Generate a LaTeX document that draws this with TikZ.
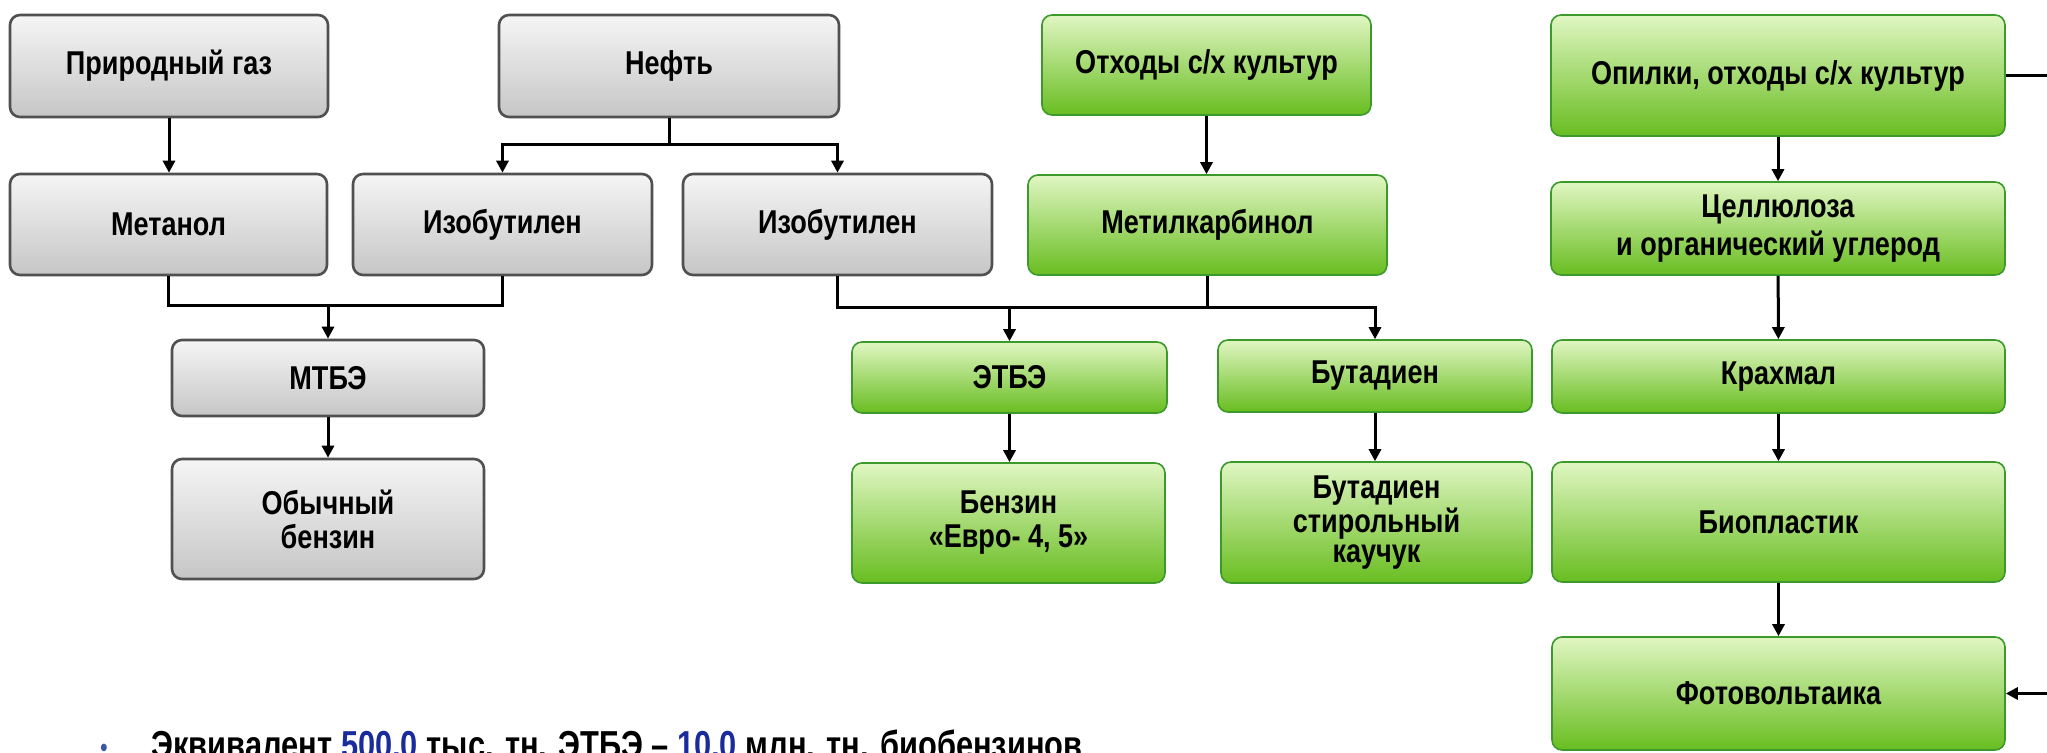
\documentclass[tikz,border=0pt]{standalone}
\usepackage{fontspec}
\setmainfont{Liberation Sans}[FakeStretch=0.82]
\newfontfamily\notefont{Liberation Sans}[FakeStretch=0.79]
\usetikzlibrary{arrows.meta}
\definecolor{grayline}{HTML}{505050}
\definecolor{graytop}{HTML}{F5F5F5}
\definecolor{graybot}{HTML}{C6C6C6}
\definecolor{greenline}{HTML}{3C9A2C}
\definecolor{greentop}{HTML}{E0F6C2}
\definecolor{greenbot}{HTML}{68BD20}
\definecolor{numblue}{HTML}{1A2C9C}
\definecolor{bulletblue}{HTML}{3A56A8}

\begin{document}
\begin{tikzpicture}[x=0.5pt,y=-0.5pt,
    box/.style={rounded corners=5pt,inner sep=0pt,align=center,
      font=\fontsize{16.5}{17}\selectfont\bfseries},
    graybox/.style={box,draw=grayline,line width=1.3pt,top color=graytop,bottom color=graybot},
    greenbox/.style={box,draw=greenline,line width=0.8pt,top color=greentop,bottom color=greenbot},
    link/.style={line width=1.5pt},
    arr/.style={link,-{Triangle[length=6pt,width=6pt]}}]
  \clip (0,0) rectangle (2047,753);
  \fill[white] (0,0) rectangle (2047,753);
  % row 1
  \draw
    (169,66) node[graybox,minimum width=159pt,minimum height=51pt] (gas){Природный газ}
    (669,66) node[graybox,minimum width=170pt,minimum height=51pt] (oil){Нефть}
    (1206.5,65) node[greenbox,minimum width=164.5pt,minimum height=50pt] (waste){Отходы с/х культур}
    (1778,75.5) node[greenbox,minimum width=227pt,minimum height=60.5pt] (saw){Опилки, отходы с/х культур};
  % row 2
  \draw
    (168.5,224.5) node[graybox,minimum width=158.5pt,minimum height=50.5pt] (meth){Метанол}
    (502.5,224.5) node[graybox,minimum width=149.5pt,minimum height=50.5pt] (iso1){Изобутилен}
    (837.5,224.5) node[graybox,minimum width=154.5pt,minimum height=50.5pt] (iso2){Изобутилен}
    (1207.5,225) node[greenbox,minimum width=179.5pt,minimum height=50pt] (mk){Метилкарбинол}
    (1778,228.5) node[greenbox,minimum width=227pt,minimum height=46.5pt] (cell){Целлюлоза\\[2pt]и органический углерод};
  % row 3
  \draw
    (328,378) node[graybox,minimum width=156pt,minimum height=38pt] (mtbe){МТБЭ}
    (1009.5,377.5) node[greenbox,minimum width=157.5pt,minimum height=35.5pt] (etbe){ЭТБЭ}
    (1375,376) node[greenbox,minimum width=157pt,minimum height=36pt] (but){Бутадиен}
    (1778.5,376.5) node[greenbox,minimum width=226.5pt,minimum height=36.5pt] (starch){Крахмал};
  % row 4
  \draw
    (328,519) node[graybox,minimum width=156pt,minimum height=60pt] (plain){Обычный\\бензин}
    (1008.5,523) node[greenbox,minimum width=156.5pt,minimum height=60pt] (euro){Бензин\\«Евро- 4, 5»}
    (1376.5,522.5) node[greenbox,minimum width=155.5pt,minimum height=60.5pt,
      font=\fontsize{16.5}{15}\selectfont\bfseries] (sbr){Бутадиен\\стирольный\\каучук}
    (1778.5,522) node[greenbox,minimum width=226.5pt,minimum height=60pt] (bio){Биопластик}
    (1778.5,693.5) node[greenbox,minimum width=226.5pt,minimum height=56.5pt] (pv){Фотовольтаика};
  % junctions
  \coordinate (mtbejoin) at (328,306);
  \coordinate (oiljoin) at (669,145);
  \coordinate (etbejoin) at (1207.5,308);
  \begin{scope}[arr]
    \draw (gas.south) -- (gas.south |- meth.north);
    \draw (mtbe) -- (plain);
    \draw (waste.south) -- (waste.south |- mk.north);
    \draw (etbe.south) -- (etbe.south |- euro.north);
    \draw (but.south) -- (but.south |- sbr.north);
    \draw (saw) -- (cell);
    \draw (cell) -- (starch);
    \draw (starch) -- (bio);
    \draw (bio) -- (pv);
    \draw (oiljoin) -| (iso1.north);
    \draw (oiljoin) -| (iso2.north);
    \draw (mtbejoin) -- (mtbe.north);
    \draw (etbejoin) -| (but.north);
    \draw (etbe.north |- etbejoin) -- (etbe.north);
    \draw (saw.east) -- ++(80,0) |- (pv.east);
  \end{scope}
  \draw[link] (oil.south) -- (oiljoin);
  \draw[link] (meth.south) |- (iso1.south |- mtbejoin) -- (iso1.south);
  \draw[link] (iso2.south) |- (etbejoin) -- (mk.south);
  % note
  \node[anchor=base west,inner sep=0pt,font=\notefont\fontsize{19.5}{20}\selectfont\bfseries] (note) at (100,758)
    {\raisebox{1pt}{\textcolor{bulletblue}{\fontsize{13}{13}\selectfont\textbullet}}\hspace{22pt}Эквивалент
     \textcolor{numblue}{500,0} тыс. тн. ЭТБЭ – \textcolor{numblue}{10,0} млн. тн. биобензинов};
\end{tikzpicture}
\end{document}
